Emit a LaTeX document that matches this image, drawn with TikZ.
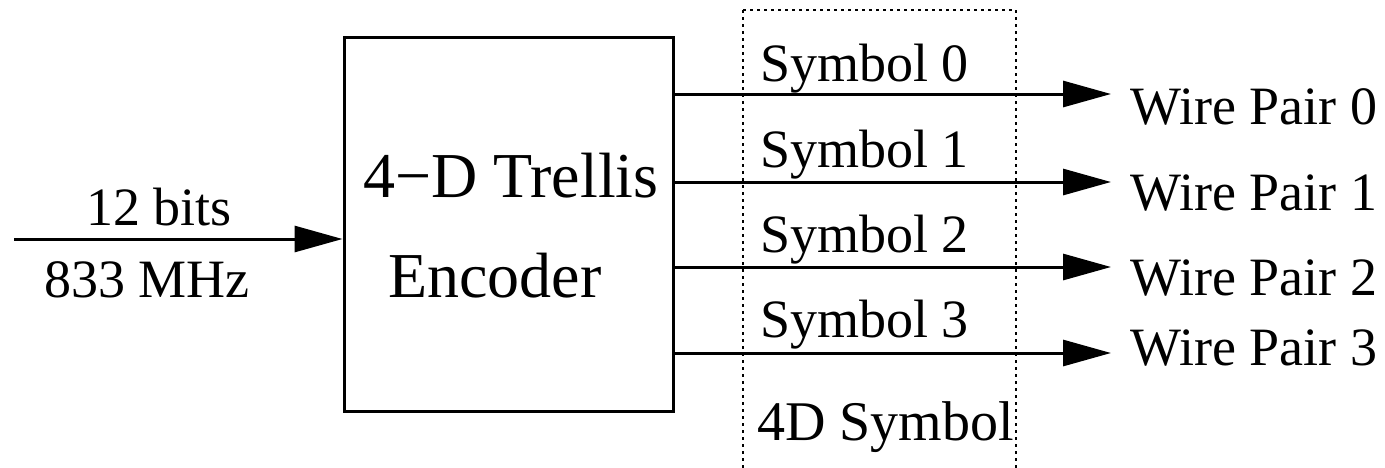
\documentclass[tikz,border=0pt]{standalone}
\usepackage{fontspec}
\setmainfont{Liberation Serif}
\usetikzlibrary{arrows.meta}

\tikzset{
  sig/.style={line width=1.5pt, -{Triangle[length=24pt,width=13pt]}},
  encbox/.style={draw, line width=1.5pt, minimum width=164.5pt, minimum height=187pt, inner sep=0pt},
  lbl/.style={font=\fontsize{27}{30}\selectfont, inner sep=0pt},
  boxlbl/.style={font=\fontsize{32}{36}\selectfont, inner sep=0pt},
  symframe/.style={line width=0.75pt, dash pattern=on 1.5pt off 2pt}
}

\begin{document}
\begin{tikzpicture}[x=0.5pt, y=-0.5pt]
  \useasboundingbox (0,0) rectangle (1385,467);
  % Encoder
  \draw (508.5,224) node[encbox](enc){};
  \draw (511,197) node[boxlbl, anchor=base](enca){4−D Trellis};
  \draw (388,297) node[boxlbl, anchor=base west](encb){Encoder};
  % input
  \coordinate (in) at (14,239);
  \draw[sig] (in) -- (in -| enc.west);
  \draw (159,225) node[lbl, anchor=base](bits){12 bits};
  \draw (147,297) node[lbl, anchor=base](clk){833 MHz};
  % 4D symbol frame
  \draw[symframe] (743,10) -- (743,475) (1016,10) -- (1016,475) (743,10) -- (1016,10);
  \draw (757,440) node[lbl, anchor=base west, font=\fontsize{28}{31}\selectfont](sym){4D Symbol};
  % outputs
  \coordinate (out0) at (1111,94);
  \coordinate (out1) at (1111,182);
  \coordinate (out2) at (1111,267);
  \coordinate (out3) at (1111,353);
  \draw[sig] (out0 -| enc.east) -- (out0);
  \draw[sig] (out1 -| enc.east) -- (out1);
  \draw[sig] (out2 -| enc.east) -- (out2);
  \draw[sig] (out3 -| enc.east) -- (out3);
  \draw (760,81) node[lbl, anchor=base west](sym0){Symbol 0};
  \draw (760,167) node[lbl, anchor=base west](sym1){Symbol 1};
  \draw (760,252) node[lbl, anchor=base west](sym2){Symbol 2};
  \draw (760,337) node[lbl, anchor=base west](sym3){Symbol 3};
  \draw (1130,124) node[lbl, anchor=base west](wp0){Wire Pair 0};
  \draw (1130,210) node[lbl, anchor=base west](wp1){Wire Pair 1};
  \draw (1130,295) node[lbl, anchor=base west](wp2){Wire Pair 2};
  \draw (1130,365) node[lbl, anchor=base west](wp3){Wire Pair 3};
\end{tikzpicture}
\end{document}
